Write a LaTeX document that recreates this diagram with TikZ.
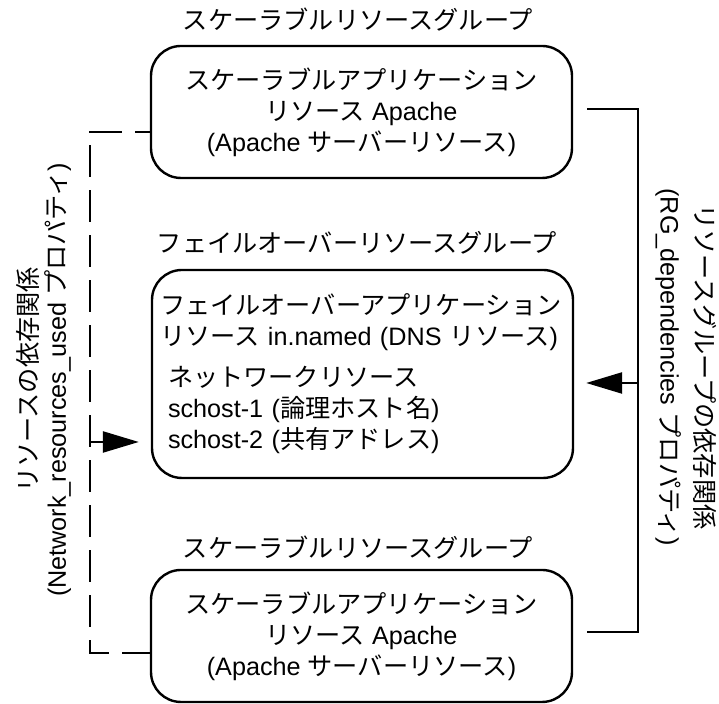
\documentclass[tikz,border=0pt]{standalone}
\usepackage{fontspec}
\setmainfont{Liberation Sans}
\newfontfamily\jafont{Noto Sans CJK JP}
% Japanese characters switch to the CJK family
\XeTeXinterchartokenstate=1
\newXeTeXintercharclass\jaclass
\newcount\jacode
\jacode="3000 \loop\XeTeXcharclass\jacode=\jaclass \advance\jacode 1 \ifnum\jacode<"3100 \repeat
\jacode="4E00 \loop\XeTeXcharclass\jacode=\jaclass \advance\jacode 1 \ifnum\jacode<"A000 \repeat
\XeTeXinterchartoks 0 \jaclass = {\begingroup\jafont}
\XeTeXinterchartoks 4095 \jaclass = {\begingroup\jafont}
\XeTeXinterchartoks \jaclass 0 = {\endgroup}
\XeTeXinterchartoks \jaclass 4095 = {\endgroup}
\usetikzlibrary{arrows.meta, positioning}

\begin{document}
\begin{tikzpicture}[x=0.5pt, y=0.5pt,
    every node/.style={font=\fontsize{12.6pt}{15.5pt}\selectfont, inner sep=0pt},
    rgbox/.style={draw, line width=1.2pt, rounded corners=15pt, minimum width=210.5pt, inner xsep=4pt},
    dep/.style={line width=1.2pt},
    deparrow/.style={line width=1.2pt, -{Triangle[length=18pt, width=10.5pt]}, shorten >=6pt}]
        \useasboundingbox (0, 0) rectangle (719, 704);
        % resource groups
        \node (topgrp) at (358, 684) {スケーラブルリソースグループ};
        \node[rgbox, align=center, minimum height=66pt] (scalA) at (361.5, 592)
            {スケーラブルアプリケーション\\リソース Apache\\(Apache サーバーリソース)};
        \node (failgrp) at (357, 461) {フェイルオーバーリソースグループ};
        \node[rgbox, align=left, text width=202.5pt, minimum height=104pt] (fail) at (362.5, 330)
            {フェイルオーバーアプリケーション\\リソース in.named (DNS リソース)\\[5pt]
             \hspace*{4pt}ネットワークリソース\\\hspace*{4pt}schost-1 (論理ホスト名)\\\hspace*{4pt}schost-2 (共有アドレス)};
        \node (botgrp) at (358, 156) {スケーラブルリソースグループ};
        \node[rgbox, align=center, minimum height=66pt] (scalB) at (361.5, 68)
            {スケーラブルアプリケーション\\リソース Apache\\(Apache サーバーリソース)};
        % dependency labels
        \node[rotate=90, align=center, font=\fontsize{12.6pt}{14pt}\selectfont] (nrused) at (44, 324)
            {リソースの依存関係\\(Network\_resources\_used プロパティ)};
        \node[rotate=-90, align=center, font=\fontsize{12.6pt}{17.5pt}\selectfont] (rgdep) at (686, 337)
            {リソースグループの依存関係\\(RG\_dependencies プロパティ)};
        % dependencies
        \coordinate (nrrail) at (90, 262);
        \coordinate (rgrail) at (638, 321);
        \draw[dep, dash pattern=on 16pt off 6.5pt, dash phase=8.5pt] ([yshift=-10pt]scalA.west) -| (nrrail) |- ([yshift=-8.5pt]scalB.west);
        \draw[deparrow] (nrrail) -- (nrrail -| fail.west);
        \draw[dep] ([xshift=7pt, yshift=1.5pt]scalA.east) -| (rgrail) |- ([xshift=7pt, yshift=2pt]scalB.east);
        \draw[deparrow] (rgrail) -- (rgrail -| fail.east);
      \end{tikzpicture}
\end{document}
